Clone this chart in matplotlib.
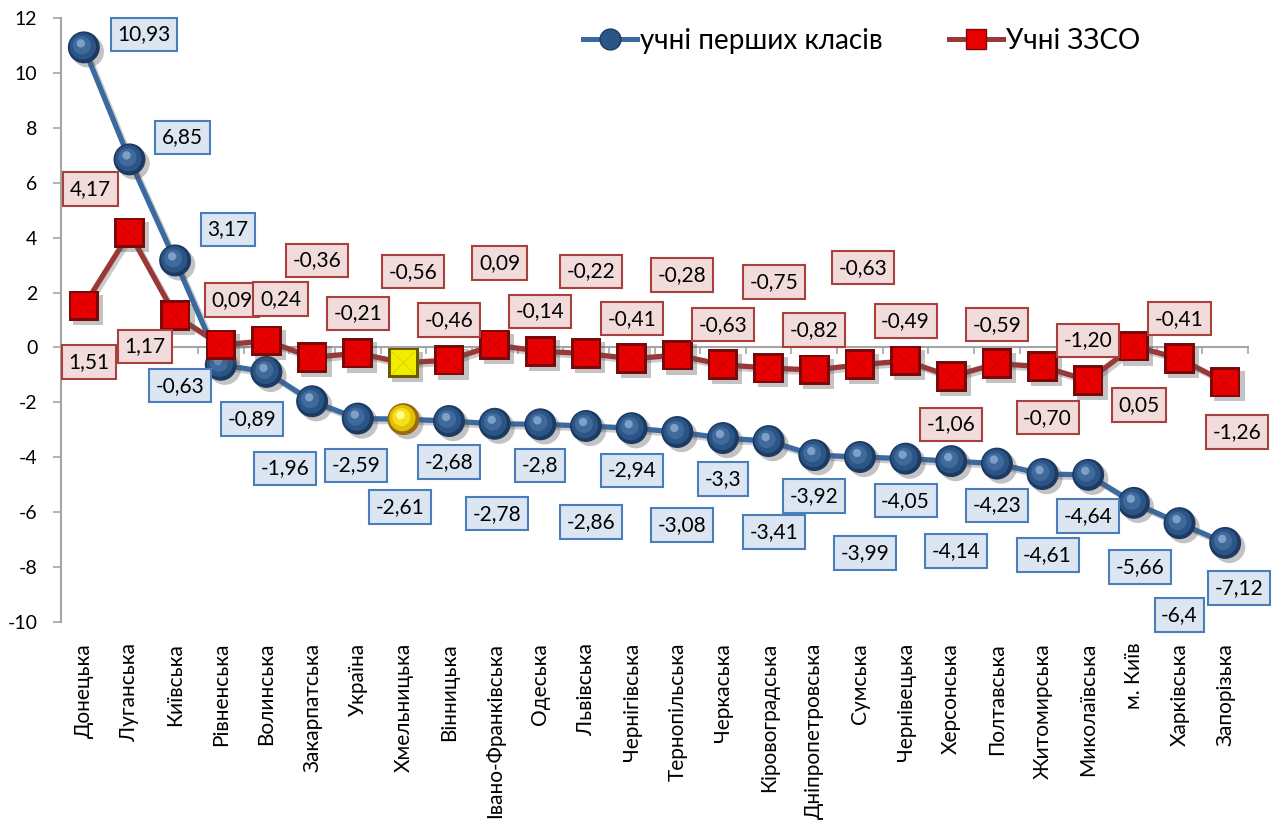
import matplotlib
matplotlib.use('Agg')
import matplotlib.pyplot as plt
import matplotlib.patheffects as pe
from matplotlib.lines import Line2D
from matplotlib.transforms import offset_copy
import numpy as np

plt.rcParams['font.family'] = ['Lato', 'DejaVu Sans']
plt.rcParams['axes.unicode_minus'] = False

# Data (% change)
regions = ['Донецька', 'Луганська', 'Київська', 'Рівненська', 'Волинська',
           'Закарпатська', 'Україна', 'Хмельницька', 'Вінницька',
           'Івано-Франківська', 'Одеська', 'Львівська', 'Чернігівська',
           'Тернопільська', 'Черкаська', 'Кіровоградська', 'Дніпропетровська',
           'Сумська', 'Чернівецька', 'Херсонська', 'Полтавська', 'Житомирська',
           'Миколаївська', 'м. Київ', 'Харківська', 'Запорізька']
first_grade = [10.93, 6.85, 3.17, -0.63, -0.89, -1.96, -2.59, -2.61, -2.68,
               -2.78, -2.8, -2.86, -2.94, -3.08, -3.3, -3.41, -3.92, -3.99,
               -4.05, -4.14, -4.23, -4.61, -4.64, -5.66, -6.4, -7.12]
zzso = [1.51, 4.17, 1.17, 0.09, 0.24, -0.36, -0.21, -0.56, -0.46, 0.09,
        -0.14, -0.22, -0.41, -0.28, -0.63, -0.75, -0.82, -0.63, -0.49, -1.06,
        -0.59, -0.70, -1.20, 0.05, -0.41, -1.26]
highlight = 'Хмельницька'
series_names = ['учні перших класів', 'Учні ЗЗСО']

# label offsets in pixels (dx, dy screen-down)
blue_off = [(60, -13), (53, -22), (53, -31), (-41, 21), (-14, 47), (-27, 67),
            (-2, 47), (-3, 88), (0, 41), (2, 90), (0, 41), (5, 96), (0, 42),
            (5, 93), (0, 41), (5, 91), (0, 41), (5, 96), (0, 42), (5, 90),
            (0, 42), (5, 81), (0, 41), (6, 64), (0, 92), (14, 45)]
red_off = [(5, 56), (-39, -44), (-30, 31), (11, -45), (14, -42), (5, -97),
           (0, -40), (10, -91), (0, -40), (5, -82), (0, -40), (5, -82),
           (0, -40), (5, -80), (0, -40), (5, -86), (0, -40), (3, -97),
           (0, -40), (0, 48), (0, -39), (5, 51), (0, -40), (5, 59), (0, -40),
           (12, 50)]

x = np.arange(len(regions))
hl = np.array([r == highlight for r in regions])
ymin, ymax = -10, 12

fig = plt.figure(figsize=(12.77, 8.27), dpi=100)
ax = fig.add_axes([61/1277, 1-622/827, (1248-61)/1277, 604/827])
ax.set_xlim(-0.5, len(regions) - 0.5)
ax.set_ylim(ymin, ymax)

blue_line = '#3B6AA0'
red_line = '#9A3836'
shadow = [pe.SimplePatchShadow(offset=(3, -3), shadow_rgbFace='#555555', alpha=0.35), pe.Normal()]
lshadow = [pe.SimpleLineShadow(offset=(2, -2), shadow_color='#555555', alpha=0.3), pe.Normal()]

# blue series
ax.plot(x, first_grade, color=blue_line, lw=3.8, zorder=3, path_effects=lshadow)
fb = np.array(first_grade)
layers = [(23, '#1C3A62', '#9A6A10', 0, 0),
          (19, '#2B5586', '#E0C000', -1, 1),
          (13, '#40699C', '#F5E020', -2, 2),
          (6, '#7E9FC8', '#FFFF90', -3, 4)]
for k, (sz, c, cy, ox, oy) in enumerate(layers):
    tr = offset_copy(ax.transData, fig=fig, x=ox, y=oy, units='dots')
    cols = [cy if h else c for h in hl]
    sc = ax.scatter(x, fb, s=sz**2, c=cols, marker='o', linewidths=0,
                    transform=tr, zorder=4 + k * 0.1)
    if k == 0:
        sc.set_path_effects(shadow)

# red series
ax.plot(x, zzso, color=red_line, lw=3.8, zorder=5, path_effects=lshadow)
zr = np.array(zzso)
sq_layers = [(22, '#7A0A0A', '#6B5A00'), (18, '#E80000', '#F2EC00')]
for k, (sz, c, cy) in enumerate(sq_layers):
    cols = [cy if h else c for h in hl]
    sc = ax.scatter(x, zr, s=sz**2, c=cols, marker='s', linewidths=0,
                    zorder=6 + k * 0.1)
    if k == 0:
        sc.set_path_effects(shadow)
ax.scatter(x, zr, s=16**2, c=['#D8D000' if h else '#C80000' for h in hl],
           marker='x', linewidths=0.6, zorder=6.3)

# data labels
for i in range(len(regions)):
    dx, dy = blue_off[i]
    ax.annotate(str(first_grade[i]).replace('.', ','), (x[i], first_grade[i]),
                xytext=(dx, -dy), textcoords='offset pixels', ha='center',
                va='center', fontsize=15, zorder=8,
                bbox=dict(boxstyle='square,pad=0.32', fc='#DCE6F2', ec='#4A7EBB', lw=1.5))
for i in range(len(regions)):
    dx, dy = red_off[i]
    ax.annotate(f'{zzso[i]:.2f}'.replace('.', ','), (x[i], zzso[i]),
                xytext=(dx, -dy), textcoords='offset pixels', ha='center',
                va='center', fontsize=15, zorder=9,
                bbox=dict(boxstyle='square,pad=0.32', fc='#F2DCDB', ec='#A8403E', lw=1.5))

# axes styling
for s in ['top', 'right', 'bottom']:
    ax.spines[s].set_visible(False)
ax.spines['left'].set_color('#A6A6A6')
ax.spines['left'].set_linewidth(1.5)
ax.set_yticks(np.arange(ymin, ymax + 1, 2))
ax.tick_params(axis='y', direction='out', length=6, width=1.2, color='#A6A6A6',
               pad=11, labelsize=14)
ax.set_xticks(x, regions, rotation=90)
ax.tick_params(axis='x', length=0, pad=15, labelsize=15)

# zero line with boundary ticks
sec = ax.secondary_xaxis((0 - ymin) / (ymax - ymin))
sec.set_xticks(np.arange(len(regions) + 1) - 0.5)
sec.tick_params(axis='x', direction='out', length=5, width=1.2, color='#A6A6A6',
                labelbottom=False, labeltop=False)
sec.spines['bottom'].set_color('#A6A6A6')
sec.spines['bottom'].set_linewidth(1.5)

# legend
handles = [Line2D([0], [0], color=blue_line, lw=3.6, marker='o', markersize=15,
                  markerfacecolor='#2B5586', markeredgecolor='#1C3A62'),
           Line2D([0], [0], color=red_line, lw=3.6, marker='s', markersize=15,
                  markerfacecolor='#E80000', markeredgecolor='#7A0A0A')]
fig.legend(handles, series_names, loc='center left', frameon=False, ncol=2,
           bbox_to_anchor=(583/1277, 1 - 41/827), fontsize=20, borderpad=0,
           borderaxespad=0, handlelength=1.95, handletextpad=0.1, columnspacing=2.4)

fig.savefig('out.png', dpi=100)
